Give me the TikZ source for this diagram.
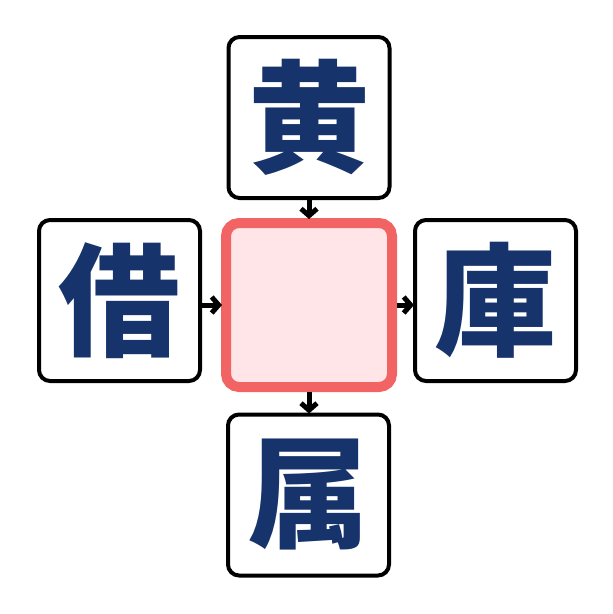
\documentclass[tikz,border=0pt]{standalone}
\usepackage{fontspec}
\newfontfamily\cjk{Noto Sans CJK JP}
\usetikzlibrary{arrows.meta}
\definecolor{navy}{HTML}{16336B}
\definecolor{redline}{HTML}{F26464}
\definecolor{pinkfill}{HTML}{FFE5E7}
\newcommand\glyph[1]{\raisebox{-6pt}{#1}}
\tikzset{
  charbox/.style={draw=black, line width=4pt, rounded corners=11pt, fill=white,
    minimum size=161pt, inner sep=0pt, text=navy,
    font=\cjk\bfseries\fontsize{122}{122}\selectfont},
  centerbox/.style={draw=redline, line width=10pt, rounded corners=13pt, fill=pinkfill,
    minimum width=166pt, minimum height=164pt, inner sep=0pt},
  arrowlink/.style={draw=black, line width=5pt, shorten >=-1pt,
    arrows={-Straight Barb[length=7pt,width=16pt]}}
}
\begin{document}
\begin{tikzpicture}[x=1pt,y=-1pt]
\useasboundingbox (0,0) rectangle (613,614);
\node[centerbox] (c) at (309,305) {};
\node[charbox] (t) at (309,117.5) {\glyph{黄}};
\node[charbox] (l) at (119.5,300.5) {\glyph{借}};
\node[charbox] (r) at (495.5,300.5) {\glyph{庫}};
\node[charbox] (b) at (308.5,495) {\glyph{属}};
\draw[arrowlink] (t.south -| c.center) -- (c.north);
\draw[arrowlink] (c.south) -- (b.north -| c.center);
\draw[arrowlink] (l.east |- c.center) -- (c.west);
\draw[arrowlink] (c.east) -- (r.west |- c.center);
\end{tikzpicture}
\end{document}
